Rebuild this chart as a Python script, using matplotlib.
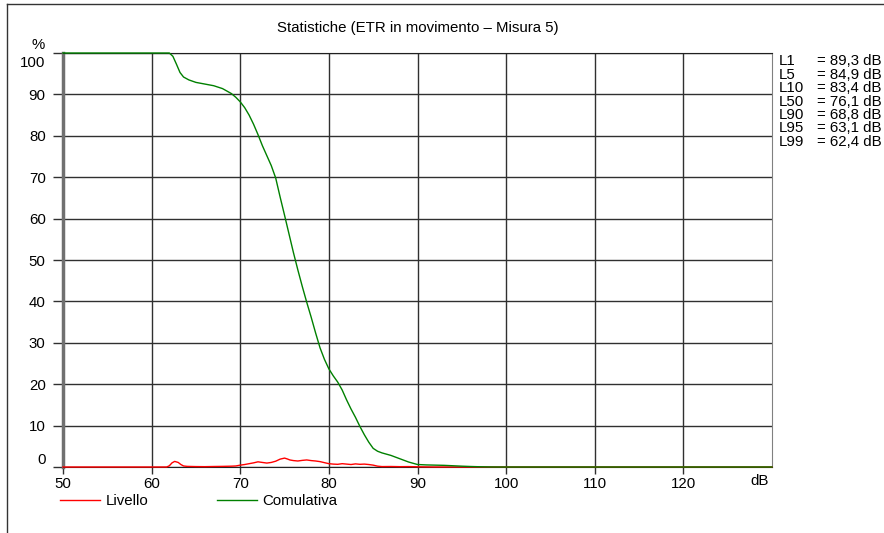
import numpy as np
import matplotlib
matplotlib.use("Agg")
import matplotlib.pyplot as plt
from matplotlib.lines import Line2D
import matplotlib.transforms as mtransforms

plt.rcParams['font.family'] = ['Liberation Sans', 'DejaVu Sans']

# cumulative distribution (dB, %)
cum_db = [50, 62.0, 62.4, 62.8, 63.2, 63.6, 64.2, 65, 66, 67, 68, 69, 69.5, 70, 70.5,
          71, 71.5, 72, 72.5, 73, 73.5, 74, 74.5, 75, 75.5, 76, 76.5, 77, 77.5, 78,
          78.5, 79, 79.5, 80, 80.5, 81, 81.5, 82, 82.5, 83, 83.5, 84, 84.5, 85, 85.5,
          86, 86.5, 87, 87.5, 88, 88.5, 89, 89.5, 90, 91, 92, 93, 94, 95, 96, 97, 98,
          99, 130]
cum_pct = [100, 100, 99.2, 97.3, 95.3, 94.2, 93.5, 92.9, 92.5, 92.1, 91.4, 90.2, 89.3,
           88.2, 86.8, 85.0, 82.8, 80.3, 77.6, 75.2, 72.8, 69.8, 65.2, 60.8, 56.3, 51.8,
           47.6, 43.6, 39.8, 36.2, 32.4, 28.8, 26.0, 23.7, 22.0, 20.5, 18.6, 16.2, 14.0,
           12.0, 9.8, 7.8, 6.0, 4.5, 3.8, 3.4, 3.1, 2.8, 2.4, 2.0, 1.6, 1.2, 0.9, 0.6,
           0.5, 0.45, 0.4, 0.3, 0.2, 0.12, 0.06, 0.02, 0, 0]

# level distribution (dB, %)
lev_db = [50, 61.7, 62.0, 62.3, 62.6, 63.0, 63.3, 63.6, 64, 65, 66, 67, 68, 69, 69.5,
          70, 70.5, 71, 71.5, 72, 72.5, 73, 73.5, 74, 74.5, 75, 75.3, 75.6, 76, 76.5,
          77, 77.5, 78, 78.5, 79, 79.5, 80, 80.5, 81, 81.5, 82, 82.5, 83, 83.5, 84,
          84.5, 85, 85.5, 86, 87, 88, 89, 90, 91, 92, 130]
lev_pct = [0, 0, 0.3, 1.0, 1.35, 1.1, 0.6, 0.25, 0.15, 0.1, 0.08, 0.12, 0.15, 0.2, 0.25,
           0.45, 0.6, 0.8, 1.0, 1.25, 1.1, 0.95, 1.1, 1.4, 1.9, 2.15, 1.95, 1.7, 1.55,
           1.45, 1.6, 1.7, 1.55, 1.45, 1.3, 1.05, 0.8, 0.7, 0.65, 0.8, 0.7, 0.6, 0.75,
           0.65, 0.7, 0.6, 0.45, 0.2, 0.1, 0.12, 0.08, 0.1, 0.05, 0.02, 0, 0]

stat_names = ['L1', 'L5', 'L10', 'L50', 'L90', 'L95', 'L99']
stat_values = ['89,3', '84,9', '83,4', '76,1', '68,8', '63,1', '62,4']

FS = 10.8
W, H = 884, 533
fig = plt.figure(figsize=(W / 100, H / 100), dpi=100)
ax = fig.add_axes([63 / W, 1 - 467 / H, (772 - 63) / W, (467 - 53) / H])

ax.plot(lev_db, lev_pct, color='#ff0000', lw=1, label='Livello', zorder=4, clip_on=False)
ax.plot(cum_db, cum_pct, color='#008000', lw=1, label='Comulativa', zorder=4, clip_on=False)

ax.set_xlim(50, 130)
ax.set_ylim(0, 100)
ax.set_xticks(np.arange(50, 121, 10))
ax.set_yticks(np.arange(0, 101, 10))
ax.tick_params(axis='x', length=5, width=1, pad=2, labelsize=FS, color='#303030')
ax.tick_params(axis='y', length=7, width=1, pad=5.5, labelsize=FS, color='#303030')
ax.grid(True, color='#303030', lw=1)
ax.set_axisbelow(True)

# end labels kept inside the plot height
ylabels = ax.get_yticklabels()
ylabels[0].set_verticalalignment('bottom')
ylabels[-1].set_verticalalignment('top')
ylabels[-1].set_transform(ylabels[-1].get_transform() +
                          mtransforms.ScaledTranslation(0, -2 / 72, fig.dpi_scale_trans))

ax.spines['left'].set_color('#707070')
ax.spines['left'].set_linewidth(2.5)
ax.spines['right'].set_color('#808080')
ax.spines['top'].set_color('#202020')
ax.spines['bottom'].set_color('#202020')

fig.text(417.5 / W, 1 - 28 / H, 'Statistiche (ETR in movimento \u2013 Misura 5)',
         ha='center', va='center', fontsize=FS)
fig.text(38 / W, 1 - 45 / H, '%', ha='center', va='center', fontsize=FS)
fig.text(760 / W, 1 - 481 / H, 'dB', ha='center', va='center', fontsize=FS)

for i, (n, v) in enumerate(zip(stat_names, stat_values)):
    y = 1 - (61 + i * 13.5) / H
    fig.text(779 / W, y, n, ha='left', va='center', fontsize=FS)
    fig.text(817 / W, y, '= ' + v + ' dB', ha='left', va='center', fontsize=FS)

fig.legend(loc='center left', bbox_to_anchor=(46 / W, 1 - 501 / H), ncol=2,
           frameon=False, fontsize=FS, handlelength=2.67, handletextpad=0.4,
           columnspacing=4.55)

# outer frame
fig.add_artist(Line2D([7.5 / W, 7.5 / W], [0, 1 - 3.5 / H], color='#333333', lw=1))
fig.add_artist(Line2D([7.5 / W, 1], [1 - 3.5 / H, 1 - 3.5 / H], color='#333333', lw=1))

fig.savefig('out.png', dpi=100)
